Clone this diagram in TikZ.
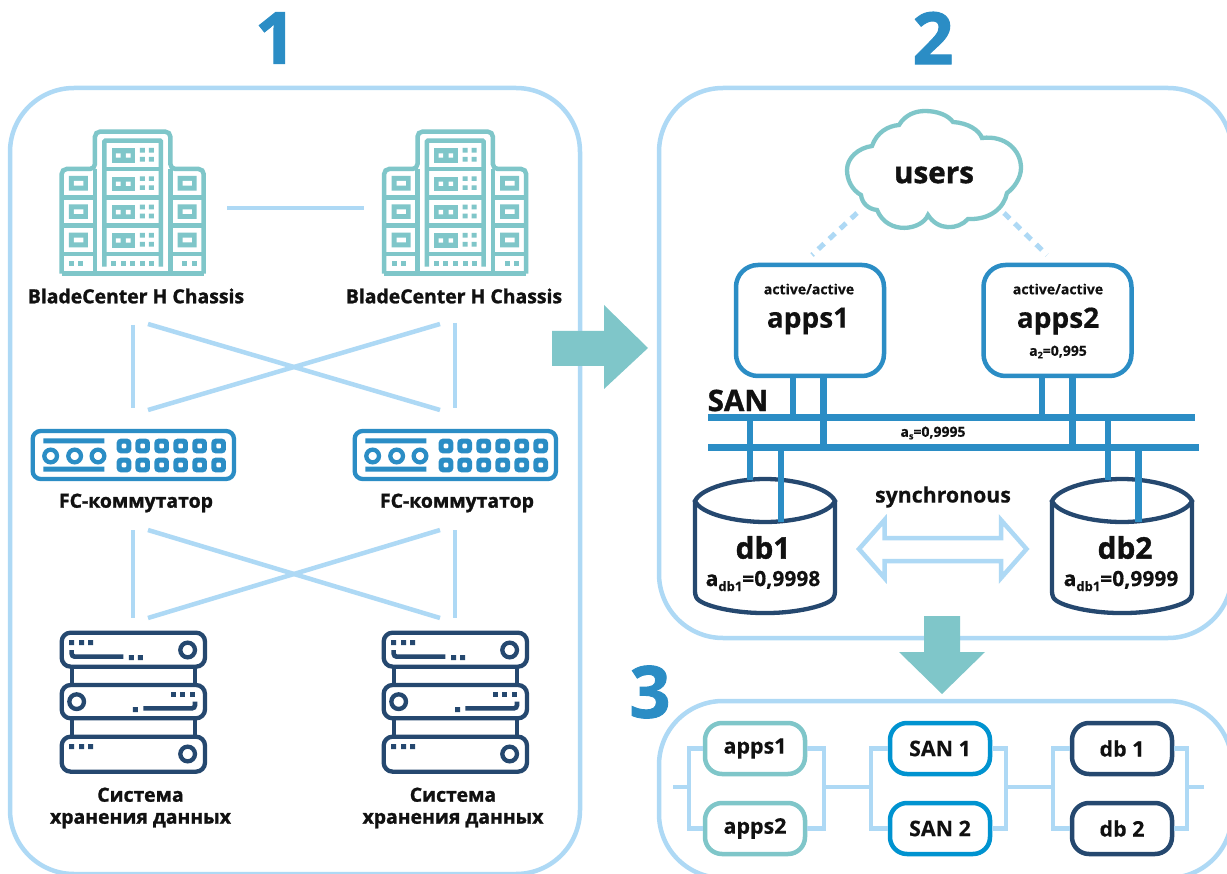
\documentclass[tikz,border=0pt]{standalone}
\usepackage{fontspec}
\setmainfont{Open Sans}
\newfontface\xb{Open Sans Bold}[FakeBold=1.3]
\newfontface\bd{Open Sans Bold}[FakeBold=0.3]
\definecolor{teal1}{HTML}{7FC6C9}
\definecolor{lblue}{HTML}{AED9F5}
\definecolor{mblue}{HTML}{2B8DC5}
\definecolor{navy}{HTML}{25486F}
\definecolor{sblue}{HTML}{0093D0}
\definecolor{ink}{HTML}{111111}
\tikzset{
  panel/.style={draw=lblue,line width=4.5pt,rounded corners=64pt,fill=white},
  link/.style={draw=lblue,line width=4.5pt},
  dotlink/.style={draw=lblue,line width=5pt,dash pattern=on 8pt off 7pt},
  bar/.style={draw=mblue,line width=6.5pt},
  wire/.style={draw=mblue,line width=6.5pt},
  bigarrow/.style={fill=teal1,draw=none},
  numlabel/.style={text=mblue,font=\xb\fontsize{72}{72}\selectfont,inner sep=0pt},
  caption/.style={text=ink,font=\xb\fontsize{19.4}{22}\selectfont,align=center,inner sep=0pt},
  appbox/.style={draw=mblue,line width=4.5pt,rounded corners=22pt,fill=white,minimum width=148pt,minimum height=111pt,inner sep=0pt},
  blockbox/.style={line width=4.5pt,rounded corners=17pt,fill=white,minimum width=100pt,minimum height=51pt,inner sep=0pt,text=ink,font=\bd\fontsize{21.4}{22}\selectfont},
  small/.style={text=ink,font=\bd\fontsize{14}{15}\selectfont,inner sep=0pt},
  big/.style={text=ink,font=\bd\fontsize{28}{30}\selectfont,inner sep=0pt},
  dbname/.style={text=ink,font=\xb\fontsize{29.8}{30}\selectfont,inner sep=0pt},
  dbval/.style={text=ink,font=\bd\fontsize{21}{24}\selectfont,inner sep=0pt},
  ic/.style={line width=4.5pt},
}
% ---- icons, drawn in 1/3 px units
\newcommand{\bladeicon}[2]{\begin{scope}[shift={(#1,#2)},x=0.33333pt,y=-0.33333pt]
  \draw[ic,teal1,rounded corners=5pt] (125,461) -- (125,147) -- (225,147) -- (225,35) -- (451,35) -- (451,147) -- (551,147) -- (551,461);
  \draw[ic,teal1] (125,461) -- (551,461) (225,147) -- (225,461) (451,147) -- (451,461);
  \draw[ic,teal1,rounded corners=1pt] (253,440) -- (253,62) -- (423,62) -- (423,440);
  \foreach \y in {147,232,317,402} \draw[ic,teal1] (253,\y) -- (423,\y);
  \foreach \y in {232,317,402} \draw[ic,teal1] (125,\y) -- (225,\y) (451,\y) -- (551,\y);
  \foreach \i in {0,1,2,3} {
    \fill[teal1] (275,85+85*\i) rectangle (345,128+85*\i);
    \fill[white] (288,100+85*\i) rectangle (302,113+85*\i) (318,100+85*\i) rectangle (332,113+85*\i);
    \fill[teal1] (360,84+85*\i) rectangle (375,98+85*\i) (387,84+85*\i) rectangle (402,98+85*\i)
                 (360,111+85*\i) rectangle (375,125+85*\i) (387,111+85*\i) rectangle (402,125+85*\i);
  }
  \foreach \i in {0,1,2} {
    \fill[teal1] (147,168+85*\i) rectangle (204,212+85*\i) (473,168+85*\i) rectangle (530,212+85*\i);
    \fill[white] (162,183+85*\i) rectangle (190,197+85*\i) (488,183+85*\i) rectangle (516,197+85*\i);
  }
  \foreach \x in {273,302,331,360,388} \fill[teal1] (\x,422) rectangle (\x+15,437);
  \foreach \x in {147,175,487,515} \fill[teal1] (\x,422) rectangle (\x+15,437);
\end{scope}}
\newcommand{\switchicon}[2]{\begin{scope}[shift={(#1,#2)},x=0.33333pt,y=-0.33333pt]
  \draw[mblue,line width=4.3pt,rounded corners=8pt] (38,33) rectangle (642,177);
  \fill[mblue] (70,55) rectangle (253,70) (70,140) rectangle (253,155);
  \foreach \x in {92,164,234} \draw[mblue,line width=4.3pt] (\x,108) circle[radius=19];
  \foreach \x in {312,368,425,482,539,596} \foreach \y in {78,135} {
    \fill[mblue,rounded corners=4pt] (\x-22,\y-22) rectangle (\x+22,\y+22);
    \fill[white,rounded corners=1pt] (\x-7,\y-7) rectangle (\x+7,\y+7);
  }
\end{scope}}
\newcommand{\storeicon}[2]{\begin{scope}[shift={(#1,#2)},x=0.33333pt,y=-0.33333pt]
  \draw[navy,line width=4.3pt] (97,140) -- (97,195) (465,140) -- (465,195) (97,295) -- (97,350) (465,295) -- (465,350);
  \draw[navy,line width=4.3pt,rounded corners=9pt] (65,38) rectangle (495,140) (65,195) rectangle (495,295) (65,350) rectangle (495,455);
  \foreach \x in {87,117,144} \fill[navy] (\x,60) rectangle (\x+15,75) (\x,372) rectangle (\x+15,387);
  \foreach \x in {393,420,450} \fill[navy] (\x,216) rectangle (\x+15,231);
  \fill[navy] (267,105) rectangle (282,120) (294,105) rectangle (309,120) (279,261) rectangle (294,276);
  \draw[navy,line width=4.3pt] (443,90) circle[radius=22] (110,245) circle[radius=22] (443,402) circle[radius=22];
  \draw[navy,line width=4.6pt,rounded corners=3pt] (95,90) -- (95,110) -- (250,110) (465,245) -- (465,265) -- (310,265);
\end{scope}}
\begin{document}
\begin{tikzpicture}[x=1pt,y=-1pt]
\useasboundingbox (0,0) rectangle (1227,874);
\clip (0,0) rectangle (1227,874);
% panels
\draw[panel] (10,88) rectangle (580,874);
\draw[panel] (659,88) rectangle (1232,638);
\draw[panel] (659,701) rectangle (1232,878);
% numbers
\node[numlabel] (n1) at (275.5,38) {1};
\node[numlabel] (n2) at (933,38) {2};
\node[numlabel] (n3) at (650,692) {3};
% icons of panel 1
\bladeicon{20}{120}
\bladeicon{342.5}{120}
\switchicon{20}{420}
\switchicon{342}{420}
\storeicon{40}{620}
\storeicon{362}{620}
\node[caption] (c1) at (136,296) {BladeCenter H Chassis};
\node[caption] (c2) at (454,296) {BladeCenter H Chassis};
\node[caption] (c3) at (136,503) {FC-коммутатор};
\node[caption] (c4) at (457,503) {FC-коммутатор};
\node[caption] (c5) at (140.5,808) {Система\\хранения данных};
\node[caption] (c6) at (453,808) {Система\\хранения данных};
% links of panel 1
\coordinate (ba) at (227,208); \coordinate (bb) at (364,208);
\draw[link] (ba) -- (bb);
\coordinate (t1) at (133,325); \coordinate (t2) at (455,323);
\coordinate (m1) at (133,408); \coordinate (m2) at (455,408);
\coordinate (x1) at (148,324); \coordinate (x2) at (440,410);
\coordinate (x3) at (148,410); \coordinate (x4) at (440,324);
\draw[link] (t1) -- (m1); \draw[link] (t2) -- (m2);
\draw[link] (x1) -- (x2); \draw[link] (x3) -- (x4);
\coordinate (u1) at (133,530); \coordinate (u2) at (455,530);
\coordinate (d1) at (133,618); \coordinate (d2) at (455,618);
\coordinate (y1) at (148,530); \coordinate (y2) at (440,618);
\coordinate (y3) at (148,618); \coordinate (y4) at (440,530);
\draw[link] (u1) -- (d1); \draw[link] (u2) -- (d2);
\draw[link] (y1) -- (y2); \draw[link] (y3) -- (y4);
% big arrows
\fill[bigarrow] (552,331) -- (604,331) -- (604,305) -- (648,348) -- (604,389) -- (604,366) -- (552,366) -- cycle;
\fill[bigarrow] (924,616) -- (960,616) -- (960,652) -- (985,652) -- (942,694) -- (899,652) -- (924,652) -- cycle;
% cloud
\draw[draw=teal1,line width=4.3pt,fill=white,line join=miter]
  (872,146) .. controls (877,132) and (888,126) .. (899,125)
  .. controls (905,115) and (915,111) .. (925,111)
  .. controls (937,111) and (948,115) .. (953,122)
  .. controls (968,123) and (979,130) .. (982,138)
  .. controls (1005,135) and (1021,150) .. (1021,168)
  .. controls (1021,178) and (1014,188) .. (1007,193)
  .. controls (1004,208) and (990,220) .. (968,219)
  .. controls (958,230) and (938,231) .. (928,215)
  .. controls (922,230) and (888,236) .. (877,210)
  .. controls (868,209) and (862,203) .. (861,195)
  .. controls (852,190) and (847,180) .. (847,170)
  .. controls (847,158) and (858,148) .. (872,146) -- cycle;
\node[text=ink,font=\xb\fontsize{29.6}{30}\selectfont,inner sep=0pt] (users) at (934,175) {users};
% app boxes
\node[appbox] (apps1) at (810,320.5) {};
\node[appbox] (apps2) at (1057.5,320.5) {};
\node[small] (aa1) at (809,289) {active/active};
\node[small] (aa2) at (1058,289) {active/active};
\node[big] (ta1) at (808,321) {apps1};
\node[big] (ta2) at (1058,321) {apps2};
\node[small] (a2v) at (1058,352) {a\raisebox{-2.5pt}{\fontsize{9}{9}\selectfont 2}=0,995};
% dotted user links
\coordinate (ul1) at (857,213); \coordinate (ul2) at (812,255);
\coordinate (ur1) at (1004,213); \coordinate (ur2) at (1047,255);
\draw[dotlink] (ul1) -- (ul2);
\draw[dotlink] (ur1) -- (ur2);
% SAN
\coordinate (b1l) at (708,417.5); \coordinate (b1r) at (1194.5,417.5);
\coordinate (b2l) at (708,447.5); \coordinate (b2r) at (1199,447.5);
\coordinate (p1) at (793,0); \coordinate (p2) at (823.5,0);
\coordinate (p3) at (1042,0); \coordinate (p4) at (1072.5,0);
\coordinate (p5) at (750,0); \coordinate (p6) at (781,0);
\coordinate (p7) at (1108,0); \coordinate (p8) at (1138.5,0);
\coordinate (dbt) at (0,480); \coordinate (dbb) at (0,522);
\draw[wire] (p1 |- apps1.south) -- (p1 |- b1l);
\draw[wire] (p2 |- apps1.south) -- (p2 |- b2l);
\draw[wire] (p3 |- apps2.south) -- (p3 |- b1l);
\draw[wire] (p4 |- apps2.south) -- (p4 |- b2l);
\foreach \xx in {695,1052} {
  \draw[navy,line width=4.3pt,fill=white] (\xx,501) .. controls (\xx+6,514) and (\xx+40,522) .. (\xx+70,522) .. controls (\xx+100,522) and (\xx+134,514) .. (\xx+140,501) .. controls (\xx+134,488) and (\xx+100,479) .. (\xx+70,479) .. controls (\xx+40,479) and (\xx+6,488) .. (\xx,501) -- cycle;
  \draw[navy,line width=4.3pt,rounded corners=3pt] (\xx,501) -- (\xx,595) .. controls (\xx+6,606) and (\xx+40,613) .. (\xx+70,613) .. controls (\xx+100,613) and (\xx+134,606) .. (\xx+140,595) -- (\xx+140,501);
}
\draw[wire] (p5 |- b1l) -- (p5 |- dbt);
\draw[wire] (p6 |- b2l) -- (p6 |- dbb);
\draw[wire] (p7 |- b1l) -- (p7 |- dbt);
\draw[wire] (p8 |- b2l) -- (p8 |- dbb);
\draw[bar] (b1l) -- (b1r);
\draw[bar] (b2l) -- (b2r);
\node[text=ink,font=\xb\fontsize{29.5}{30}\selectfont,inner sep=0pt] (san) at (738,400.5) {SAN};
\node[small] (asv) at (933,433) {a\raisebox{-2.5pt}{\fontsize{9}{9}\selectfont s}=0,9995};
\node[dbname] (db1) at (763,547.5) {db1};
\node[dbname] (db2) at (1125,547.5) {db2};
\node[dbval] (v1) at (763,581) {a\raisebox{-5pt}{\fontsize{13}{14}\selectfont db1}=0,9998};
\node[dbval] (v2) at (1121,581) {a\raisebox{-5pt}{\fontsize{13}{14}\selectfont db1}=0,9999};
\node[text=ink,font=\bd\fontsize{21.3}{22}\selectfont,inner sep=0pt] (sync) at (943,497) {synchronous};
\draw[link,miter limit=10,fill=white] (859,549) -- (884.5,520) -- (884.5,538) -- (1001,538) -- (1001,520) -- (1026.5,549) -- (1001,578) -- (1001,561) -- (884.5,561) -- (884.5,578) -- cycle;
% panel 3
\node[blockbox,draw=teal1] (r1) at (755,748.5) {apps1};
\node[blockbox,draw=teal1] (r2) at (755,828.5) {apps2};
\node[blockbox,draw=sblue] (s1) at (940,748.5) {SAN 1};
\node[blockbox,draw=sblue] (s2) at (940,828.5) {SAN 2};
\node[blockbox,draw=navy] (d1b) at (1122,748.5) {db 1};
\node[blockbox,draw=navy] (d2b) at (1122,828.5) {db 2};
\coordinate (in) at (673,787); \coordinate (out) at (1204,787);
\coordinate (j1) at (689,787); \coordinate (j2) at (824,787);
\coordinate (j3) at (871,787); \coordinate (j4) at (1006,787);
\coordinate (j5) at (1053,787); \coordinate (j6) at (1187,787);
\draw[link] (in) -- (j1); \draw[link] (j2) -- (j3); \draw[link] (j4) -- (j5); \draw[link] (j6) -- (out);
\draw[link] (r1.west) -| (j1) |- (r2.west);
\draw[link] (r1.east) -| (j2) |- (r2.east);
\draw[link] (s1.west) -| (j3) |- (s2.west);
\draw[link] (s1.east) -| (j4) |- (s2.east);
\draw[link] (d1b.west) -| (j5) |- (d2b.west);
\draw[link] (d1b.east) -| (j6) |- (d2b.east);
\end{tikzpicture}
\end{document}
